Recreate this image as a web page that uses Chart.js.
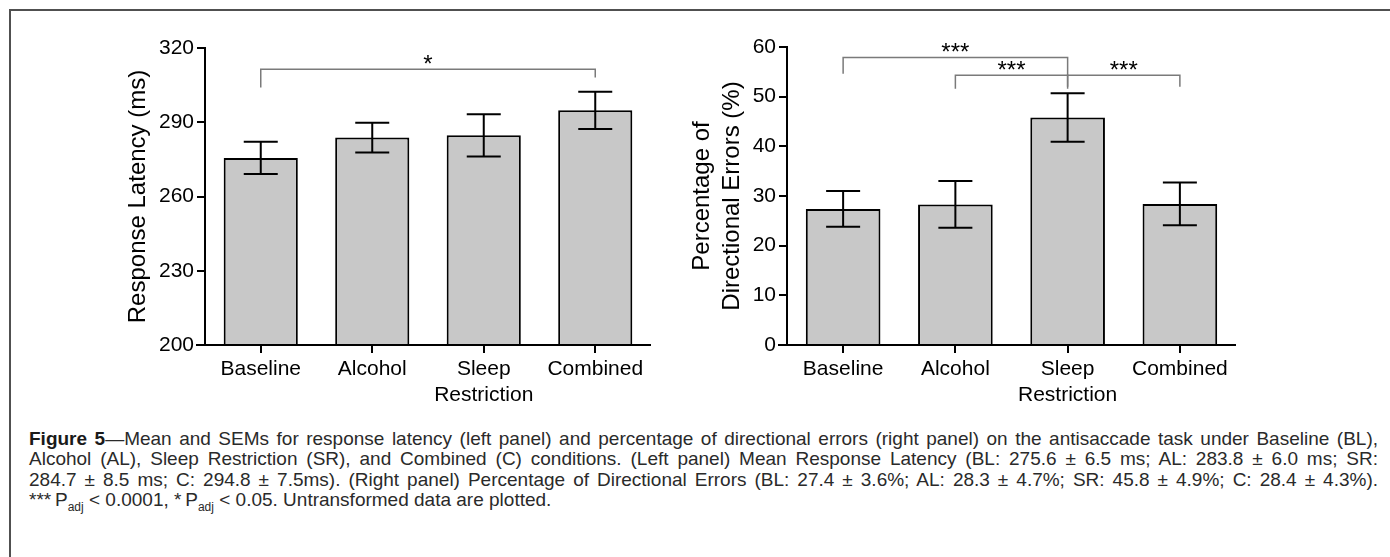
<!DOCTYPE html>
<html>
<head>
<meta charset="utf-8">
<script src="https://cdn.jsdelivr.net/npm/chart.js@4.4.1/dist/chart.umd.min.js"></script>
<style>
  html, body { margin: 0; padding: 0; background: #fff; }
  body { width: 1390px; height: 557px; position: relative; overflow: hidden; font-family: "Liberation Sans", Arial, sans-serif; }
  #frame { position: absolute; left: 9px; top: 9px; width: 1400px; height: 600px; border-top: 2px solid #505050; border-left: 2px solid #505050; }
  #latency { position: absolute; left: 0; top: 0; }
  #errors { position: absolute; left: 680px; top: 0; }
  #caption { position: absolute; left: 29px; top: 429px; width: 1349px; font-size: 19px; line-height: 20.3px; color: #2a2a2a; }
  #caption div { white-space: nowrap; overflow: visible; text-align: justify; text-align-last: justify; }
  #caption div.last { text-align-last: left; }
  #caption b { color: #1a1a1a; }
  #caption sub { font-size: 12px; line-height: 0; }
</style>
</head>
<body>
<div id="frame"></div>
<canvas id="latency" width="680" height="420"></canvas>
<canvas id="errors" width="710" height="420"></canvas>
<div id="caption">
  <div><b>Figure 5</b>—Mean and SEMs for response latency (left panel) and percentage of directional errors (right panel) on the antisaccade task under Baseline (BL),</div>
  <div>Alcohol (AL), Sleep Restriction (SR), and Combined (C) conditions. (Left panel) Mean Response Latency (BL: 275.6 ± 6.5 ms; AL: 283.8 ± 6.0 ms; SR:</div>
  <div>284.7 ± 8.5 ms; C: 294.8 ± 7.5ms). (Right panel) Percentage of Directional Errors (BL: 27.4 ± 3.6%; AL: 28.3 ± 4.7%; SR: 45.8 ± 4.9%; C: 28.4 ± 4.3%).</div>
  <div class="last">***&thinsp;P<sub>adj</sub> &lt; 0.0001, *&thinsp;P<sub>adj</sub> &lt; 0.05. Untransformed data are plotted.</div>
</div>
<script>
// values from the figure caption (mean ± SEM)
const conditions = ['Baseline', 'Alcohol', ['Sleep', 'Restriction'], 'Combined'];
const latencyMean = [275.6, 283.8, 284.7, 294.8];
const latencySem = [6.5, 6.0, 8.5, 7.5];
const errorMean = [27.4, 28.3, 45.8, 28.4];
const errorSem = [3.6, 4.7, 4.9, 4.3];

// significance brackets, in data units (bar index, bracket level, leg ends)
const latencyBrackets = [
  { from: 0, to: 3, y: 311.4, leftEnd: 304.0, rightEnd: 308.1, label: '*' },
];
const errorBrackets = [
  { from: 0, to: 2, y: 57.9, leftEnd: 54.6, rightEnd: 54.3, label: '***' },
  { from: 1, to: 2, y: 54.3, leftEnd: 51.6, rightEnd: 51.6, label: '***' },
  { from: 2, to: 3, y: 54.3, leftEnd: 52.0, rightEnd: 52.0, label: '***' },
];

// caption lines are fixed; squeeze any that would run past the right edge
document.querySelectorAll('#caption div').forEach(d => {
  const over = d.scrollWidth - d.clientWidth;
  if (over > 0) d.style.letterSpacing = (-(over + 2) / d.textContent.length) + 'px';
});

Chart.defaults.font.family = '"Liberation Sans", Arial, sans-serif';
Chart.defaults.color = '#000';

const errorBars = {
  id: 'errorBars',
  afterDatasetsDraw(chart, args, opts) {
    const { ctx, scales: { y } } = chart;
    const meta = chart.getDatasetMeta(0);
    const vals = chart.data.datasets[0].data;
    ctx.save();
    ctx.strokeStyle = '#000';
    ctx.lineWidth = 2;
    opts.sem.forEach((s, i) => {
      const px = meta.data[i].x;
      const top = y.getPixelForValue(vals[i] + s);
      const bot = y.getPixelForValue(vals[i] - s);
      ctx.beginPath();
      ctx.moveTo(px, top); ctx.lineTo(px, bot);
      ctx.moveTo(px - 17, top); ctx.lineTo(px + 17, top);
      ctx.moveTo(px - 17, bot); ctx.lineTo(px + 17, bot);
      ctx.stroke();
    });
    ctx.restore();
  }
};

const brackets = {
  id: 'brackets',
  afterDraw(chart, args, opts) {
    const { ctx, scales: { x, y } } = chart;
    ctx.save();
    opts.items.forEach(b => {
      const x1 = x.getPixelForValue(b.from);
      const x2 = x.getPixelForValue(b.to);
      const yy = y.getPixelForValue(b.y);
      ctx.strokeStyle = '#7a7a7a';
      ctx.lineWidth = 1.5;
      ctx.beginPath();
      ctx.moveTo(x1, y.getPixelForValue(b.leftEnd));
      ctx.lineTo(x1, yy);
      ctx.lineTo(x2, yy);
      ctx.lineTo(x2, y.getPixelForValue(b.rightEnd));
      ctx.stroke();
      ctx.fillStyle = '#000';
      ctx.font = '24px "Liberation Sans", Arial, sans-serif';
      ctx.textAlign = 'center';
      ctx.textBaseline = 'alphabetic';
      ctx.fillText(b.label, (x1 + x2) / 2, yy + 3);
    });
    ctx.restore();
  }
};

// GraphPad-style x axis line that runs a little past the y axis
const baseLine = {
  id: 'baseLine',
  afterDraw(chart) {
    const { ctx, chartArea } = chart;
    ctx.save();
    ctx.strokeStyle = '#000';
    ctx.lineWidth = 2;
    ctx.beginPath();
    ctx.moveTo(chartArea.left - 9, chartArea.bottom);
    ctx.lineTo(chartArea.right, chartArea.bottom);
    ctx.stroke();
    ctx.restore();
  }
};

function barChart(el, values, sem, bracketItems, yOpts, yWidth, padding) {
  return new Chart(document.getElementById(el), {
    type: 'bar',
    data: {
      labels: conditions,
      datasets: [{
        data: values,
        backgroundColor: '#c8c8c8',
        borderColor: '#000',
        borderWidth: 2,
        borderSkipped: 'start',
        barPercentage: 0.665,
        categoryPercentage: 1,
      }],
    },
    options: {
      responsive: false,
      animation: false,
      layout: { padding },
      plugins: {
        legend: { display: false },
        tooltip: { enabled: false },
        errorBars: { sem },
        brackets: { items: bracketItems },
      },
      scales: {
        x: {
          grid: { offset: false, drawOnChartArea: false, color: '#000', lineWidth: 2, tickLength: 8 },
          border: { display: false },
          ticks: { color: '#000', font: { size: 21 }, padding: 4 },
          afterFit: s => { s.height = 75; },
        },
        y: Object.assign({
          grid: { drawOnChartArea: false, color: '#000', lineWidth: 2, tickLength: 8 },
          border: { color: '#000', width: 2 },
          afterFit: s => { s.width = yWidth; },
        }, yOpts),
      },
    },
    plugins: [errorBars, brackets, baseLine],
  });
}

barChart('latency', latencyMean, latencySem, latencyBrackets, {
  min: 200, max: 320,
  ticks: { stepSize: 30, color: '#000', font: { size: 21 }, padding: 3 },
  title: { display: true, text: 'Response Latency (ms)', color: '#000', font: { size: 24 }, padding: { top: 19, bottom: 0 } },
}, 100, { left: 105, right: 29, top: 48, bottom: 0 });

barChart('errors', errorMean, errorSem, errorBrackets, {
  min: 0, max: 60,
  ticks: { stepSize: 10, color: '#000', font: { size: 21 }, padding: 3 },
  title: { display: true, text: ['Percentage of', 'Directional Errors (%)'], color: '#000', font: { size: 24, lineHeight: 1.25 }, padding: { top: 7, bottom: 0 } },
}, 107, { left: 0, right: 154, top: 47, bottom: 0 });
</script>
</body>
</html>
